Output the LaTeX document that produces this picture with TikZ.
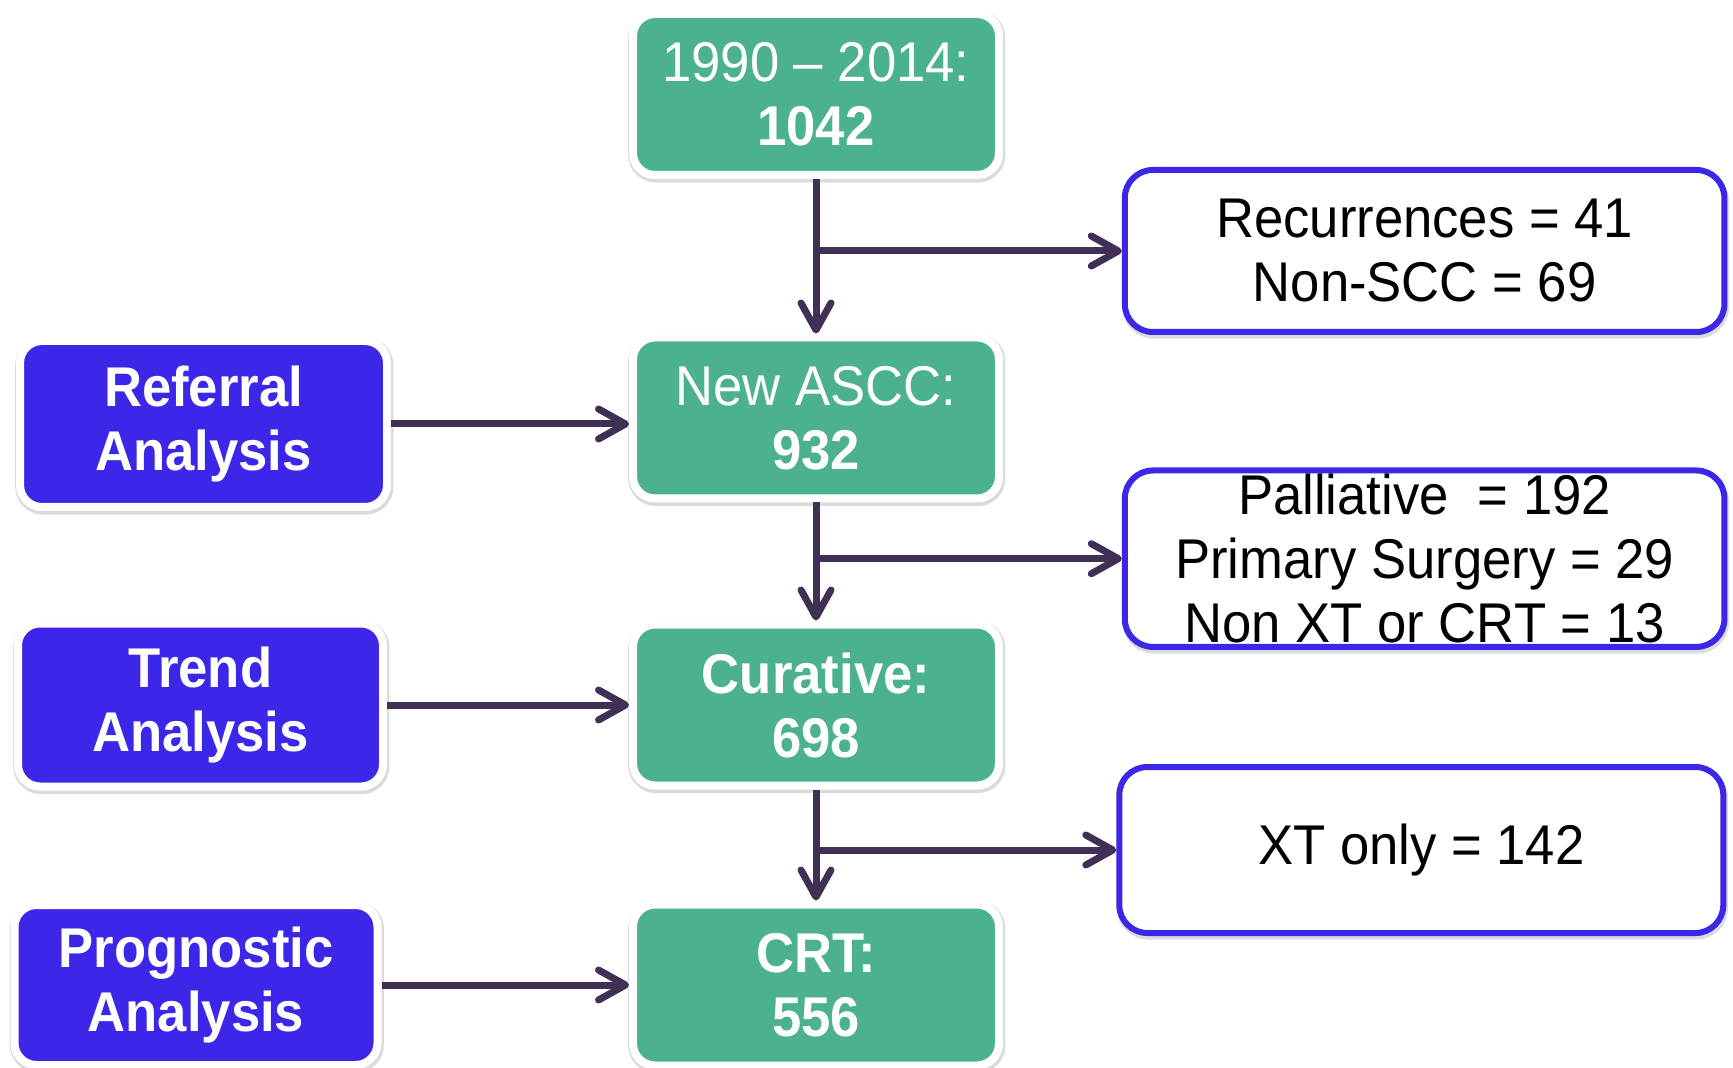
\documentclass[tikz,border=0pt]{standalone}
\usepackage{fontspec}
\setmainfont{Liberation Sans}[FakeStretch=0.94]
\usetikzlibrary{arrows.meta,shadows}
\definecolor{boxgreen}{RGB}{76,177,143}
\definecolor{boxblue}{RGB}{60,38,232}
\definecolor{arrowcol}{RGB}{64,48,86}
\tikzset{
  myshadow/.style={drop shadow={shadow xshift=0.4pt, shadow yshift=-1.0pt, opacity=0.2, fill=black!70, draw=black!70, line width=5.6pt}},
  greenbox/.style={myshadow, rectangle, rounded corners=11pt, fill=boxgreen, draw=white, line width=4pt,
    minimum width=183pt, minimum height=80.5pt, align=center, text=white, inner sep=0pt,
    font=\fontsize{28}{32}\selectfont},
  leftbox/.style={myshadow, rectangle, rounded corners=11pt, fill=boxblue, draw=white, line width=4pt,
    minimum height=80pt, align=center, text=white, inner sep=0pt,
    font=\fontsize{28}{32}\selectfont\bfseries},
  rightbox/.style={drop shadow={shadow xshift=0.5pt, shadow yshift=-1.5pt, opacity=0.2, fill=black!70, draw=black!70, line width=3.6pt},
    rectangle, rounded corners=14pt, fill=white, draw=boxblue, line width=3pt,
    align=center, text=black, inner sep=0pt,
    font=\fontsize{28}{32}\selectfont},
  arr/.style={draw=arrowcol, line width=3.5pt, -{Straight Barb[length=13.5pt, width=15pt, round]}},
}
\begin{document}
\begin{tikzpicture}[x=0.5pt, y=-0.5pt]
\useasboundingbox (0,0) rectangle (1733,1068);
% green column
\node[greenbox] (b1) at (816,94.5) {1990 -- 2014:\\\textbf{1042}};
\node[greenbox] (b2) at (816,418) {New ASCC:\\\textbf{932}};
\node[greenbox] (b3) at (816,705) {\textbf{Curative:}\\\textbf{698}};
\node[greenbox] (b4) at (816,985) {\textbf{CRT:}\\\textbf{556}};
% left boxes
\node[leftbox, minimum width=183.5pt, minimum height=83pt] (ref) at (203.5,424) {Referral\\Analysis};
\node[leftbox, minimum width=182.5pt, minimum height=81.5pt] (trend) at (200.5,705) {Trend\\Analysis};
\node[leftbox, minimum width=181.5pt, minimum height=80pt] (prog) at (196,985) {Prognostic\\Analysis};
% right boxes
\node[rightbox, minimum width=299.8pt, minimum height=81pt] (r1) at (1424.6,251) {Recurrences = 41\\Non-SCC = 69};
\node[rightbox, minimum width=299.8pt, minimum height=88.2pt] (r2) at (1424.6,558.7) {Palliative\ \ = 192\\Primary Surgery = 29\\Non XT or CRT = 13};
\node[rightbox, minimum width=302pt, minimum height=83pt] (r3) at (1421.3,850) {XT only = 142};
% vertical arrows
\draw[arr] (b1.south) -- (b2.north);
\draw[arr] (b2.south) -- (b3.north);
\draw[arr] (b3.south) -- (b4.north);
% branches
\draw[arr] (b1.south |- r1.west) -- (r1.west);
\draw[arr] (b2.south |- r2.west) -- (r2.west);
\draw[arr] (b3.south |- r3.west) -- (r3.west);
% left arrows
\draw[arr] (ref.east) -- (ref.east -| b2.west);
\draw[arr] (trend.east) -- (trend.east -| b3.west);
\draw[arr] (prog.east) -- (prog.east -| b4.west);
\end{tikzpicture}
\end{document}
